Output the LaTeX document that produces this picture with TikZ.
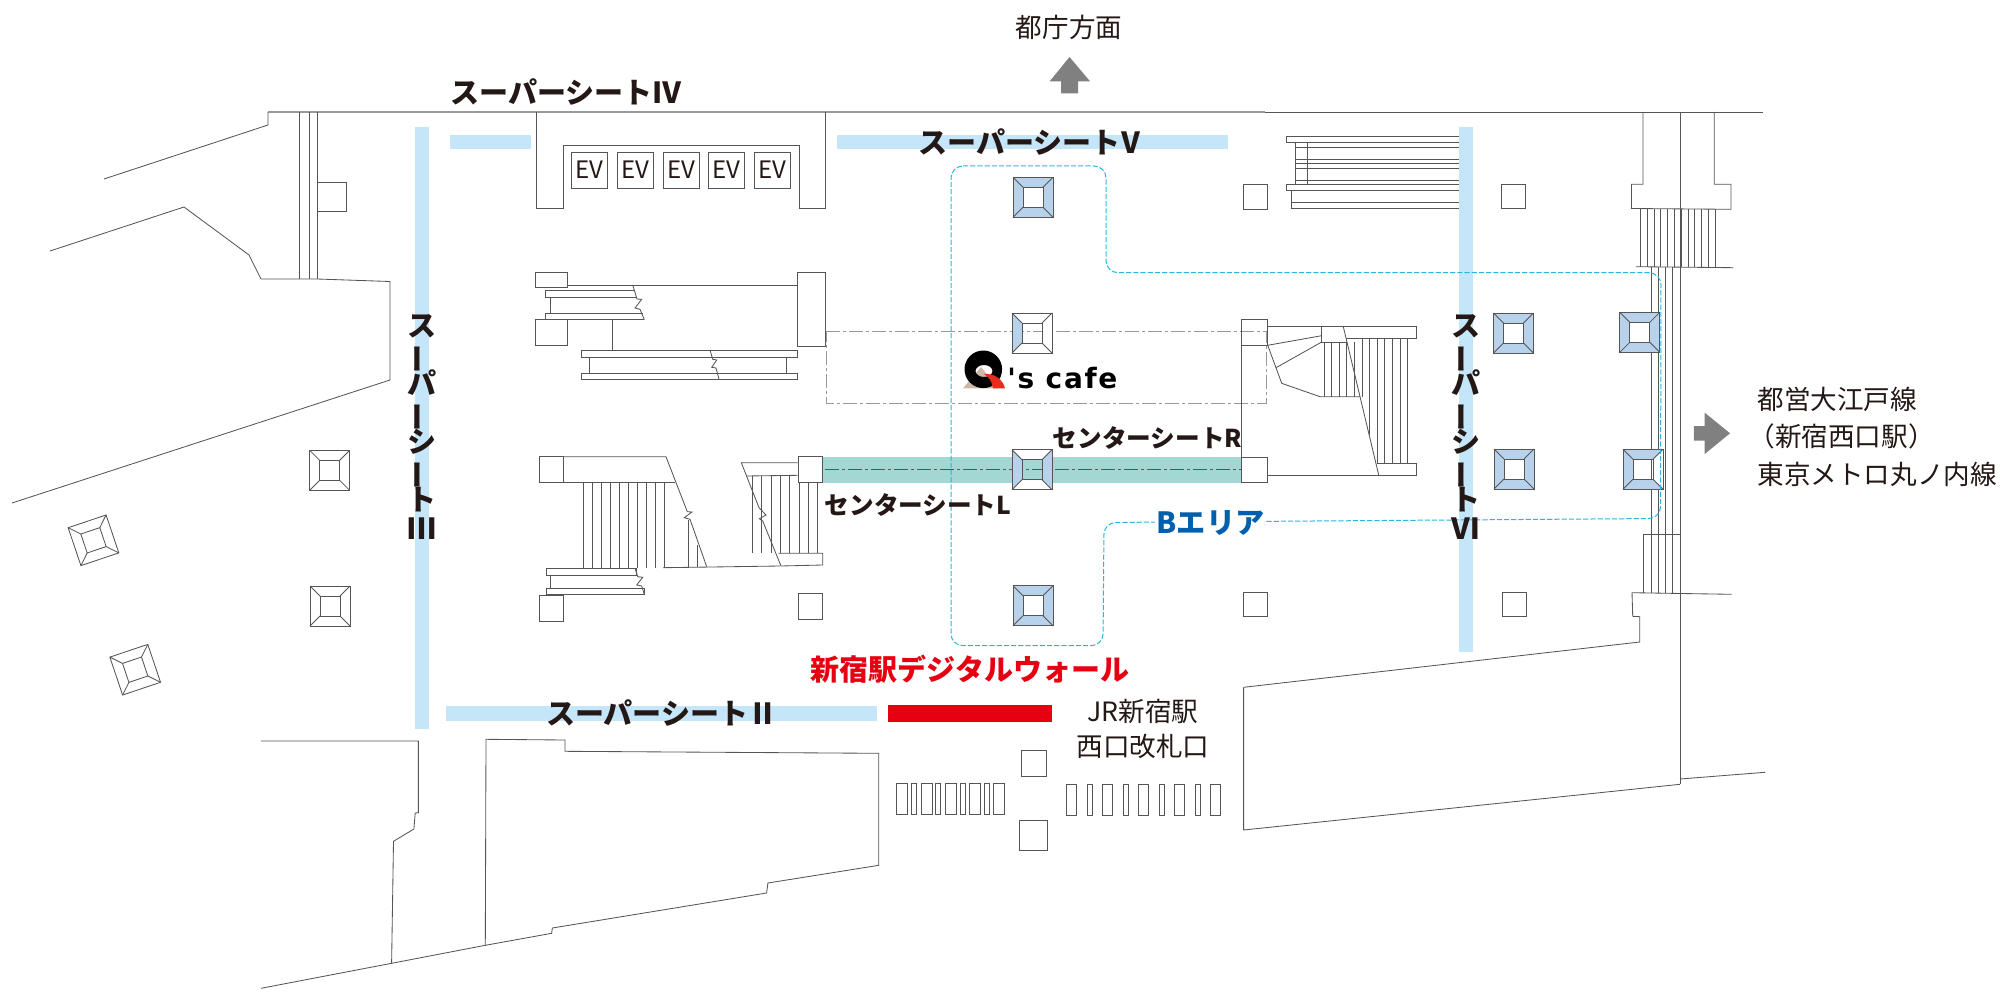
\documentclass[tikz,border=0pt]{standalone}
\usepackage{graphicx}
\usepackage{fontspec}
\setmainfont{Noto Sans CJK JP}
\newfontfamily\cafefont{DejaVu Sans}[LetterSpace=6]
\definecolor{ink}{HTML}{231815}
\definecolor{wallgray}{HTML}{555555}
\definecolor{lightwall}{HTML}{999999}
\definecolor{bandblue}{HTML}{C5E6F9}
\definecolor{bandteal}{HTML}{A3D7D3}
\definecolor{pillarblue}{HTML}{B8D2EC}
\definecolor{wallred}{HTML}{E60012}
\definecolor{areablue}{HTML}{0060AE}
\definecolor{areadash}{HTML}{29B6E0}
\definecolor{arrowgray}{HTML}{808080}
\definecolor{cafebeige}{HTML}{CDB8A4}
\definecolor{cafered}{HTML}{E72C1C}
\newcommand{\vbar}{\rotatebox[origin=c]{90}{ー}}
\newcommand{\pillar}[7]{%
  \begin{scope}[shift={(#1,#2)},rotate=#3]
    \fill[#4] (-20,-20) -- (20,-20) -- (10,-10) -- (-10,-10) -- cycle;
    \fill[#5] (20,-20) -- (20,20) -- (10,10) -- (10,-10) -- cycle;
    \fill[#6] (-20,20) -- (20,20) -- (10,10) -- (-10,10) -- cycle;
    \fill[#7] (-20,-20) -- (-20,20) -- (-10,10) -- (-10,-10) -- cycle;
    \draw[wall] (-20,-20) rectangle (20,20) (-10,-10) rectangle (10,10);
    \draw[wall] (-20,-20) -- (-10,-10) (20,-20) -- (10,-10) (20,20) -- (10,10) (-20,20) -- (-10,10);
  \end{scope}}
\begin{document}
\begin{tikzpicture}[x=0.5pt,y=-0.5pt,
        wall/.style={draw=wallgray, line width=0.42pt},
        palewall/.style={draw=lightwall, line width=0.7pt},
        band/.style={fill=bandblue},
        seatlabel/.style={inner sep=0pt, text=ink, font=\fontsize{14.5}{16}\selectfont\bfseries},
        seatvert/.style={inner sep=0pt, text=ink, align=center, font=\fontsize{14.5}{14.5}\selectfont\bfseries\lineskiplimit-100pt},
        centerlabel/.style={inner sep=0pt, text=ink, font=\fontsize{12.3}{14}\selectfont\bfseries},
        infolabel/.style={inner sep=0pt, text=ink, font=\fontsize{13.3}{15}\selectfont},
        arrowshape/.style={fill=arrowgray}
    ]
        \useasboundingbox (0,0) rectangle (2000,1000);

        % seats
        \fill[band] (414.5,127) rectangle (428.5,729);
        \fill[band] (450,135) rectangle (531,149);
        \fill[band] (837,135) rectangle (1228,149);
        \fill[band] (446,706) rectangle (877,721);
        \fill[bandteal] (822.7,456.7) rectangle (1241.7,482.5);
        \fill[wallred] (888,705) rectangle (1052,722);

        % cafe outline and teal centre line
        \draw[lightwall, line width=0.45pt, dash pattern=on 7pt off 1.5pt on 1.5pt off 1.5pt] (826,331.7) -- (1266,331.7) -- (1266,403) -- (826,403) -- cycle;
        \draw[wallgray, line width=0.45pt, dash pattern=on 7pt off 1.5pt on 1.5pt off 1.5pt] (825,469.3) -- (1241,469.3);

        % outer walls
        \draw[palewall] (268,112) -- (1265,112);
        \draw[wall] (1265,112) -- (1763,112);
        \draw[wall] (104,179) -- (268,125) -- (268,112);
        \draw[wall] (299,112) -- (299,279) (309,112) -- (309,279) (317,112) -- (317,279);
        \draw[wall] (317,182.5) rectangle (346,211);
        \draw[wall] (50,251) -- (184,207) -- (249,255) -- (261,279) -- (317,279) -- (390,281.5) -- (390,380) -- (12,503);
        \draw[wall] (261,741) -- (418.4,741) -- (418.4,812.7) -- (415.2,813) -- (413.9,829) -- (393.5,841.3) -- (391.6,963.3);
        \draw[wall] (261,988.3) -- (391.6,963.3) -- (485.3,945.3) -- (551.7,933.3) -- (552.3,928) -- (766.6,893) -- (767.9,883) -- (878.8,865.3) -- (878.8,753.3) -- (565,751.3) -- (565,740) -- (486,739.3) -- (485.3,945.3);
        \draw[wall] (1243.6,687.3) -- (1639.7,642) -- (1639.7,616.7) -- (1632.7,616.3) -- (1632,592.7) -- (1731.5,594.3);
        \draw[wall] (1243.6,687.3) -- (1243.6,830) -- (1680,784.3);
        \draw[wall] (1680,779) -- (1765,772.3);

        % elevators
        \draw[wall] (536,112) -- (536,208) -- (563,208) -- (563,145.5) -- (799,145.5) -- (799,208) -- (825,208) -- (825,112);
        \foreach \ex/\ename in {571/eva,617/evb,663/evc,708.5/evd,754.5/eve}
            \node[draw=wallgray, line width=0.42pt, inner sep=0pt, minimum width=18pt, minimum height=18pt, text=ink, font=\fontsize{12}{14}\selectfont] (\ename) at (\ex+18,170) {EV};

        % upper left stairs
        \draw[wall] (535.7,272) rectangle (567.7,287.3);
        \draw[wall] (535.7,319.5) rectangle (567.7,345.7);
        \draw[wall] (797.3,272.3) rectangle (825.7,346.7);
        \draw[wall] (567.7,285) -- (797.3,285);
        \draw[wall] (634.3,290.3) -- (545.3,290.3) -- (545.3,297.3) -- (636,297.3);
        \draw[wall] (550.3,297.3) -- (550.3,313.7);
        \draw[wall] (642.7,313.7) -- (545.3,313.7) -- (545.3,319.7) -- (644.3,319.7);
        \draw[wall] (632.7,285) -- (637,299) -- (641.7,299.3) -- (635,308) -- (640,309.3) -- (644.3,319.7);
        \draw[wall] (612.3,319.7) -- (612.3,350);
        \draw[wall] (581,350) rectangle (797.3,357.3);
        \draw[wall] (581,373) rectangle (797.3,379.3);
        \draw[wall] (589.3,357.3) -- (589.3,373) (786.3,357.3) -- (786.3,373);
        \draw[wall] (710,350) -- (712.7,359.3) -- (716.7,360) -- (711.7,367.3) -- (716,368) -- (719,379.3);

        % lower left stairs
        \draw[wall] (539.3,456.7) rectangle (563.3,482.7);
        \draw[wall] (563.3,456.7) -- (666,456.7) -- (687.3,511.7) -- (692,512) -- (684.3,517.7) -- (690,519.3) -- (706.7,566.7);
        \draw[wall] (563.3,482.7) -- (675.3,482.7);
        \foreach \i in {0,...,9}
            \draw[wall] (583.7+9*\i,482.7) -- (583.7+9*\i,568);
        \draw[wall] (688.3,520) -- (688.3,567) (697.3,545) -- (697.3,567);
        \draw[wall] (663,567.7) -- (780,566);
        \draw[wall] (546.3,568.3) rectangle (636.7,575.3);
        \draw[wall] (550.7,575.3) -- (550.7,588.3);
        \draw[wall] (546.3,588.3) rectangle (644.3,594.3);
        \draw[wall] (635,568.3) -- (637.7,576.7) -- (642.7,577.3) -- (636.7,585) -- (641.7,586) -- (644.3,594.3);
        \draw[wall] (539.5,595.7) rectangle (563.8,621.7);
        \draw[wall] (798.3,593.3) rectangle (822.7,619.3);
        \draw[wall] (797.7,462.7) -- (741.3,462.7) -- (759,507.7) -- (766,515) -- (759.3,518.7) -- (762.7,521) -- (781,566);
        \draw[wall] (797.7,475.3) -- (746,476);
        \foreach \sx/\sy in {752.3/476,761.7/476,771.3/476,780.3/476,789.7/476,799/482.3,808.3/482.3,817.7/482.3}
            \draw[wall] (\sx,\sy) -- (\sx,553.3);
        \draw[wall] (778.3,553.3) -- (822.7,553.3) -- (822.7,565) -- (781,566);
        \draw[wall, fill=white] (798.3,456.7) rectangle (822.7,482.3);

        % stairs beside centre seat R
        \draw[wall] (1241.7,345) -- (1241.7,457.3);
        \draw[wall] (1241.7,319.3) rectangle (1267.7,345.3);
        \draw[wall, fill=white] (1241.7,457.3) rectangle (1267.7,482.7);
        \draw[wall] (1267.7,326.7) -- (1416,326.7) -- (1416,338.7) -- (1346,338.7);
        \draw[wall] (1321.7,326.7) -- (1321.7,342) -- (1346.7,342);
        \draw[wall] (1343.3,326.7) -- (1378.7,475);
        \draw[wall] (1267.7,345.3) -- (1321.7,335.7) (1276,367.7) -- (1321.7,342);
        \draw[wall] (1267.7,345.3) -- (1281.7,383.3) -- (1320,396.7) -- (1360,396.7);
        \foreach \sx in {1324.3,1331.7,1339,1346.7,1354}
            \draw[wall] (\sx,342) -- (\sx,396.7);
        \foreach \sx/\sy in {1362/396.7,1369.3/435,1377/463.3,1384.7/463.3,1392.7/463.3,1400.3/463.3,1407.7/463.3}
            \draw[wall] (\sx,338.7) -- (\sx,\sy);
        \draw[wall] (1267.7,475.3) -- (1416,475.3) -- (1416,463.3) -- (1376.7,463.3);

        % stairs by seat VI
        \draw[wall] (1286.4,136.7) rectangle (1459,142.7);
        \foreach \hy in {147.3,159.3,163.3,168.3,180}
            \draw[wall] (1295.3,\hy) -- (1459,\hy);
        \draw[wall] (1295.3,142.7) -- (1295.3,184.3) (1307.4,142.7) -- (1307.4,184.3);
        \draw[wall] (1286.4,184.3) rectangle (1459,190.3);
        \draw[wall] (1291.5,190.3) rectangle (1459,208.3);
        \draw[wall] (1291.5,202.3) -- (1459,202.3);

        % right corridor
        \draw[wall] (1642.9,112) -- (1642.9,184.3) -- (1631.4,184.3) -- (1631.4,208.5) -- (1730.9,209.3) -- (1730.9,184.3) -- (1714.3,184.3) -- (1714.3,112);
        \draw[wall] (1680,112) -- (1680,784.3);
        \foreach \i in {0,...,11}
            \draw[wall] (1640.3+6.8*\i,209) -- (1640.3+6.8*\i,267);
        \draw[wall] (1635.8,266.7) -- (1733.4,267.7);
        \foreach \cx in {1651.7,1658.3,1665.3,1672.7}
            \draw[wall] (\cx,267) -- (\cx,593);
        \draw[wall] (1643.3,593) -- (1643.3,534.3) -- (1680,534.3);

        % columns
        \foreach \cx/\cy in {1255/197,1513.7/196.5,1255/604.5,1514.6/604.7}
            \draw[wall] (\cx-12,\cy-12.2) rectangle (\cx+12,\cy+12.2);
        \fill[band] (1459,127) rectangle (1473,652);

        % gates
        \draw[wall] (1021,750.7) rectangle (1046,776.7);
        \draw[wall] (1019,820.7) rectangle (1047,850.7);
        \foreach \i in {0,...,4} {
            \draw[wall] (896.7+24.3*\i,783) rectangle (907.7+24.3*\i,814.3);
            \draw[wall] (1066.3+36*\i,784) rectangle (1076.8+36*\i,815);
        }
        \foreach \i in {0,...,3} {
            \draw[wall] (911.5+24.3*\i,783) rectangle (916.5+24.3*\i,814.3);
            \draw[wall] (1087.4+36*\i,784) rectangle (1092.5+36*\i,815);
        }

        % pillars
        \pillar{93.5}{540.3}{18.6}{white}{white}{white}{white}
        \pillar{135.2}{669.7}{18.6}{white}{white}{white}{white}
        \pillar{329.7}{470.3}{0}{white}{white}{white}{white}
        \pillar{330}{606}{0}{white}{white}{white}{white}
        \pillar{1033}{197.3}{0}{pillarblue}{pillarblue}{pillarblue}{pillarblue}
        \pillar{1032}{333}{0}{white}{white}{white}{pillarblue}
        \pillar{1032}{469.7}{0}{white}{pillarblue}{white}{pillarblue}
        \pillar{1033}{605.7}{0}{pillarblue}{pillarblue}{pillarblue}{pillarblue}
        \pillar{1513.5}{333}{0}{pillarblue}{pillarblue}{pillarblue}{pillarblue}
        \pillar{1639.8}{332.3}{0}{pillarblue}{pillarblue}{pillarblue}{pillarblue}
        \pillar{1514}{469}{0}{pillarblue}{pillarblue}{pillarblue}{pillarblue}
        \pillar{1643}{469.3}{0}{pillarblue}{white}{pillarblue}{pillarblue}

        % B area
        \draw[areadash, line width=0.5pt, dash pattern=on 2.6pt off 1pt, rounded corners=6pt] (951,166) -- (1106,166) -- (1106,272.7) -- (1661,272.7) -- (1660.5,518.5) -- (1104,522.5) -- (1103,645.7) -- (951,645.7) -- cycle;

        % Q's cafe logo
        \fill[cafebeige] (963,388.3) -- (981,367) -- (998,388.3) -- cycle;
        \fill[black, even odd rule] (983.3,369.3) circle [radius=18.8] (984,371) ellipse [x radius=8.5, y radius=6];
        \fill[cafered] (984,374) .. controls (995,373) and (1003,380) .. (1005,388.3) -- (993,388.3) .. controls (992,382) and (990,378) .. (984,374);
        \node[inner sep=0pt, anchor=base west, font=\fontsize{14}{16}\selectfont\cafefont\bfseries] (cafe) at (1007,388) {'s cafe};

        % labels
        \node[seatlabel] (seatfour) at (566,92) {スーパーシートⅣ};
        \node[seatlabel] (seatfive) at (1032,142) {スーパーシート\kern-2ptⅤ};
        \node[seatlabel] (seattwo) at (661.7,713.3) {スーパーシートⅡ};
        \node[seatvert] (seatthree) at (422,427.5) {ス\\\vbar\\パ\\\vbar\\シ\\\vbar\\ト\\Ⅲ};
        \node[seatvert] (seatsix) at (1466,427.5) {ス\\\vbar\\パ\\\vbar\\シ\\\vbar\\ト\\Ⅵ};
        \node[centerlabel] (centerr) at (1147.5,438.5) {センターシートR};
        \node[centerlabel] (centerl) at (918,505) {センターシートL};
        \node[inner sep=0pt, text=wallred, font=\fontsize{14.5}{16}\selectfont\bfseries] (wallname) at (970,669) {新宿駅デジタルウォール};
        \node[fill=white, inner sep=1pt, text=areablue, font=\fontsize{14.6}{16}\selectfont\bfseries] (areab) at (1210.5,523) {Bエリア};
        \node[infolabel] (jr) at (1143,711.5) {JR新宿駅};
        \node[infolabel] (gate) at (1143,746.5) {西口改札口};
        \node[infolabel] (tocho) at (1069,27.5) {都庁方面};
        \node[infolabel, anchor=west] (oedo) at (1757,399.5) {都営大江戸線};
        \node[infolabel, anchor=west] (nishiguchi) at (1748,436.5) {（新宿西口駅）};
        \node[infolabel, anchor=west] (marunouchi) at (1757,474.5) {東京メトロ丸ノ内線};

        % direction arrows
        \fill[arrowshape] (1069.5,57) -- (1090,81.3) -- (1078,81.3) -- (1078,93.3) -- (1061,93.3) -- (1061,81.3) -- (1049.7,81.3) -- cycle;
        \fill[arrowshape] (1730,433.3) -- (1704.7,454) -- (1704.7,440.7) -- (1693.9,440.7) -- (1693.9,426) -- (1704.7,426) -- (1704.7,412.7) -- cycle;
    \end{tikzpicture}
\end{document}
